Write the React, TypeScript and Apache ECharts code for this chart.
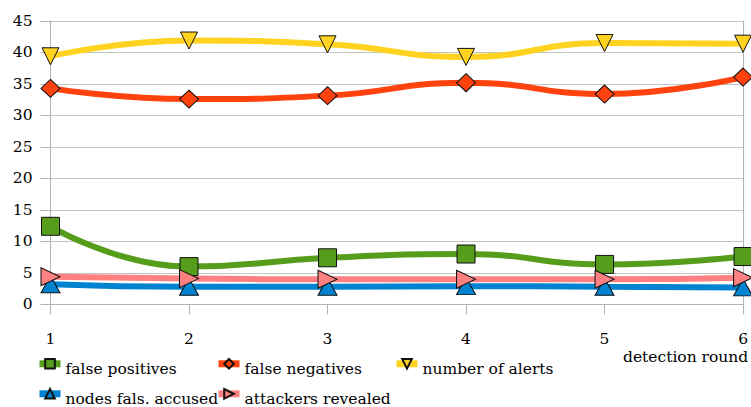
import React, { useEffect, useRef } from "react";
import * as echarts from "echarts";

const rounds = [1, 2, 3, 4, 5, 6];
const falsePositives = [12.4, 6.0, 7.4, 8.0, 6.35, 7.6];
const falseNegatives = [34.3, 32.6, 33.15, 35.2, 33.4, 36.1];
const numberOfAlerts = [39.4, 41.9, 41.3, 39.3, 41.5, 41.4];
const nodesFalselyAccused = [3.2, 2.8, 2.8, 2.9, 2.8, 2.7];
const attackersRevealed = [4.4, 4.1, 4.0, 4.0, 4.0, 4.25];

const seriesNames = [
  "false positives",
  "false negatives",
  "number of alerts",
  "nodes fals. accused",
  "attackers revealed",
];
const xAxisName = "detection round";

const FONT = "DejaVu Serif";
const FS = 15.5;
const GRID = "#b3b3b3";

export default function App() {
  const ref = useRef<HTMLDivElement>(null);
  useEffect(() => {
    if (!ref.current) return;
    const chart = echarts.init(ref.current, null, { renderer: "svg" });
    const pts = (vals: number[]) => rounds.map((r, i) => [r, vals[i]]);
    const mk = (
      name: string,
      vals: number[],
      color: string,
      symbol: string,
      size: number | number[]
    ) => ({
      name,
      type: "line",
      data: pts(vals),
      smooth: 0.5,
      symbol,
      symbolSize: size,
      showAllSymbol: true,
      lineStyle: { color, width: 6 },
      itemStyle: { color, borderColor: "#111", borderWidth: 1 },
      emphasis: { disabled: true },
    });
    const lg = (name: string, left: number, top: number) => ({
      data: [name],
      left,
      top,
      padding: 0,
      itemWidth: 21,
      itemHeight: 12,
      itemGap: 0,
      selectedMode: false,
      lineStyle: { width: 7 },
      formatter: "{a|{name}}",
      textStyle: {
        fontFamily: FONT,
        fontSize: FS,
        color: "#000",
        rich: {
          a: {
            fontFamily: FONT,
            fontSize: FS,
            color: "#000",
            padding: [10, 0, 0, 0],
          },
        },
      },
    });
    chart.setOption({
      animation: false,
      backgroundColor: "#fff",
      textStyle: { fontFamily: FONT, fontSize: FS, color: "#000" },
      grid: { left: 50.5, right: 2.7, top: 21, bottom: 102.6 },
      xAxis: {
        type: "value",
        min: 1,
        max: 6,
        interval: 1,
        axisLine: { show: true, lineStyle: { color: GRID, width: 1 } },
        axisTick: { show: true, length: 10, lineStyle: { color: GRID } },
        splitLine: { show: false },
        axisLabel: {
          margin: 27,
          fontFamily: FONT,
          fontSize: FS,
          color: "#000",
          showMaxLabel: true,
          showMinLabel: true,
        },
      },
      yAxis: [
        {
          type: "value",
          min: 0,
          max: 45,
          interval: 5,
          axisLine: { show: true, lineStyle: { color: GRID, width: 1 } },
          axisTick: { show: true, length: 10, lineStyle: { color: GRID } },
          splitLine: { show: true, lineStyle: { color: "#c4c4c4", width: 1.2 } },
          axisLabel: {
            margin: 18,
            fontFamily: FONT,
            fontSize: FS,
            color: "#000",
          },
        },
        {
          type: "value",
          position: "right",
          min: 0,
          max: 45,
          interval: 5,
          axisLine: { show: true, lineStyle: { color: GRID, width: 1 } },
          axisTick: { show: false },
          axisLabel: { show: false },
          splitLine: { show: false },
        },
      ],
      legend: [
        lg(seriesNames[0], 36, 358),
        lg(seriesNames[1], 215, 358),
        lg(seriesNames[2], 393, 358),
        lg(seriesNames[3], 36, 388),
        lg(seriesNames[4], 215, 388),
      ],
      graphic: [
        {
          type: "text",
          x: 623,
          y: 357,
          style: {
            text: xAxisName,
            fontFamily: FONT,
            fontSize: FS,
            fill: "#000",
            align: "left",
            verticalAlign: "middle",
          },
        },
      ],
      series: [
        mk(seriesNames[0], falsePositives, "#579d1c", "rect", 18),
        mk(seriesNames[1], falseNegatives, "#ff420e", "diamond", [19, 18]),
        mk(seriesNames[2], numberOfAlerts, "#ffd320", "path://M0,0L10,0L5,10Z", [17, 17]),
        mk(seriesNames[3], nodesFalselyAccused, "#0084d1", "triangle", [19, 17]),
        mk(seriesNames[4], attackersRevealed, "#ff8080", "path://M0,0L10,5L0,10Z", [19, 18]),
      ],
    });
    return () => chart.dispose();
  }, []);
  return (
    <div
      ref={ref}
      style={{ position: "fixed", left: 0, top: 0, width: 751, height: 407 }}
    />
  );
}
